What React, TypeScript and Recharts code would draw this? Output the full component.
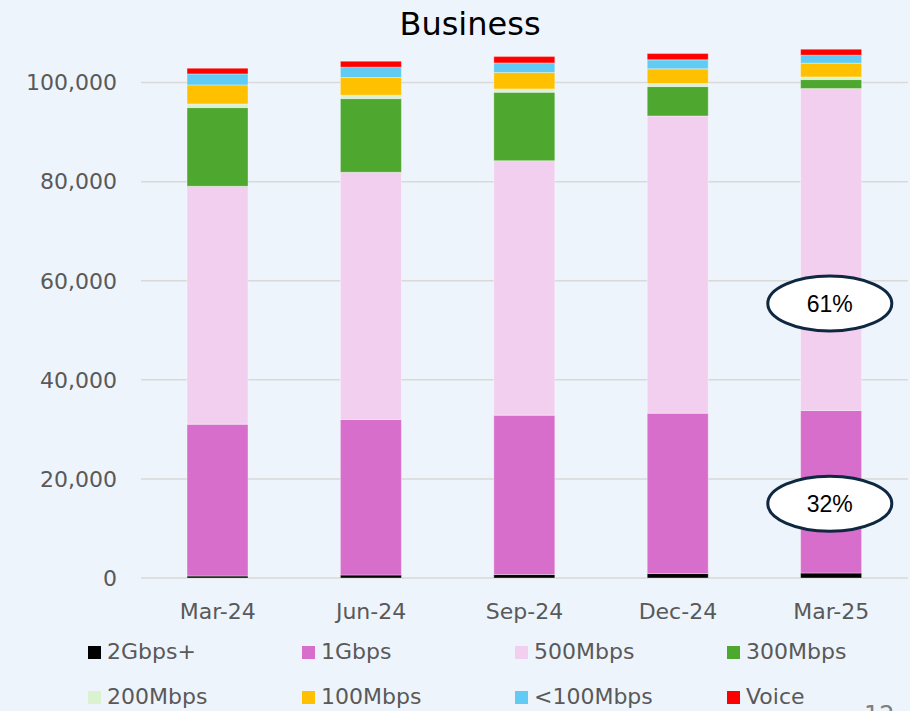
import React from "react";
import { BarChart, Bar, XAxis, YAxis, CartesianGrid, ReferenceDot } from "recharts";

const categories = ["Mar-24", "Jun-24", "Sep-24", "Dec-24", "Mar-25"];
const gbps2Plus = [400, 600, 700, 900, 1000];
const gbps1 = [30650, 31400, 32170, 32370, 32815];
const mbps500 = [48010, 49890, 51360, 59990, 64965];
const mbps300 = [15880, 14870, 13820, 5920, 1820];
const mbps200 = [750, 685, 670, 610, 540];
const mbps100 = [3835, 3555, 3290, 2970, 2770];
const under100 = [2225, 2100, 1960, 1820, 1610];
const voice = [1150, 1210, 1270, 1270, 1220];
const yTicks = [0, 20000, 40000, 60000, 80000, 100000];

const seriesDefs = [
  { key: "2Gbps+", values: gbps2Plus, color: "#000000" },
  { key: "1Gbps", values: gbps1, color: "#D86ECC" },
  { key: "500Mbps", values: mbps500, color: "#F2CFEE" },
  { key: "300Mbps", values: mbps300, color: "#4EA72E" },
  { key: "200Mbps", values: mbps200, color: "#DAF2D0" },
  { key: "100Mbps", values: mbps100, color: "#FFC000" },
  { key: "<100Mbps", values: under100, color: "#61CBF3" },
  { key: "Voice", values: voice, color: "#FF0000" },
];

const data = categories.map((c, i) => {
  const row: Record<string, string | number> = { name: c };
  seriesDefs.forEach((s) => {
    row[s.key] = s.values[i];
  });
  return row;
});

const FONT = "'DejaVu Sans', Verdana, sans-serif";

const EllipseLabel = (label: string) => (props: any) => {
  const { cx, cy } = props;
  return (
    <g>
      <ellipse cx={cx - 1.5} cy={cy} rx={62} ry={27.5} fill="#ffffff" stroke="#0E2841" strokeWidth={3} />
      <text
        x={cx - 1.5}
        y={cy}
        textAnchor="middle"
        dominantBaseline="central"
        fontFamily="'Liberation Sans', Arial, sans-serif"
        fontSize={23}
        fill="#000000"
      >
        {label}
      </text>
    </g>
  );
};

const legendCols = [88, 302, 515, 727];
const legendRows = [652, 697];

export default function App() {
  return (
    <div
      style={{
        position: "absolute",
        left: 0,
        top: 0,
        width: 910,
        height: 711,
        background: "#EEF4FB",
        overflow: "hidden",
        fontFamily: FONT,
      }}
    >
      <div
        style={{
          position: "absolute",
          left: 0,
          width: 940,
          top: 4,
          textAlign: "center",
          fontSize: 32,
          lineHeight: "40px",
          color: "#000000",
          fontFamily: FONT,
        }}
      >
        Business
      </div>
      <div style={{ position: "absolute", left: 0, top: 0 }}>
        <BarChart
          width={910}
          height={711}
          data={data}
          margin={{ top: 33, right: 2, bottom: 93, left: 0 }}
          barCategoryGap="30%"
        >
          <CartesianGrid
            vertical={false}
            horizontalValues={yTicks}
            stroke="#D9D9D9"
            strokeWidth={1.5}
          />
          <XAxis
            dataKey="name"
            height={40}
            axisLine={false}
            tickLine={false}
            tickMargin={19}
            tick={{ fill: "#595959", fontSize: 22, fontFamily: FONT }}
            interval={0}
          />
          <YAxis
            width={141}
            domain={[0, 110000]}
            ticks={yTicks}
            axisLine={false}
            tickLine={false}
            tickMargin={18}
            tickFormatter={(v: number) => v.toLocaleString("en-US")}
            tick={{ fill: "#595959", fontSize: 22, fontFamily: FONT }}
          />
          {seriesDefs.map((s) => (
            <Bar
              key={s.key}
              dataKey={s.key}
              stackId="a"
              fill={s.color}
              stroke="#ffffff"
              strokeWidth={0.6}
              strokeOpacity={0.6}
              isAnimationActive={false}
            />
          ))}
          <ReferenceDot x="Mar-25" y={55400} ifOverflow="visible" shape={EllipseLabel("61%")} />
          <ReferenceDot x="Mar-25" y={15000} ifOverflow="visible" shape={EllipseLabel("32%")} />
        </BarChart>
      </div>
      {seriesDefs.map((s, i) => {
        const col = i % 4;
        const row = Math.floor(i / 4);
        return (
          <div
            key={s.key}
            style={{
              position: "absolute",
              left: legendCols[col],
              top: legendRows[row] - 15,
              height: 30,
              display: "flex",
              alignItems: "center",
              whiteSpace: "nowrap",
            }}
          >
            <div style={{ width: 13, height: 13, background: s.color, marginRight: 6 }} />
            <span style={{ fontSize: 22, color: "#595959", fontFamily: FONT, lineHeight: "30px" }}>{s.key}</span>
          </div>
        );
      })}
      <div
        style={{
          position: "absolute",
          left: 864,
          top: 700,
          fontSize: 24,
          color: "#7F7F7F",
          fontFamily: FONT,
          lineHeight: "30px",
        }}
      >
        12
      </div>
    </div>
  );
}
